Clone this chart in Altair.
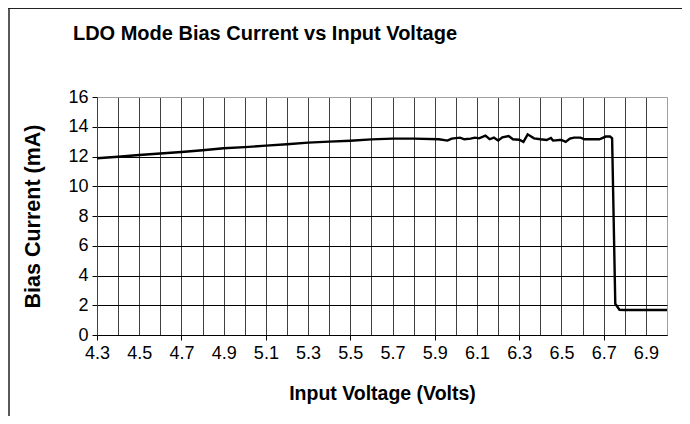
import altair as alt
import pandas as pd

# ---- data ----
volts = [4.30, 4.40, 4.50, 4.60, 4.70, 4.80, 4.90, 5.00, 5.10, 5.20, 5.30, 5.40,
         5.50, 5.60, 5.70, 5.80, 5.92, 5.96, 5.98, 6.02, 6.04, 6.07, 6.09, 6.11,
         6.14, 6.16, 6.18, 6.20, 6.22, 6.25, 6.27, 6.30, 6.32, 6.34, 6.37, 6.40,
         6.43, 6.45, 6.46, 6.49, 6.50, 6.52, 6.54, 6.56, 6.59, 6.61, 6.68, 6.71,
         6.73, 6.74, 6.755, 6.775, 6.80, 7.00]
current = [11.88, 11.98, 12.10, 12.20, 12.30, 12.42, 12.55, 12.63, 12.73, 12.82,
           12.93, 13.00, 13.06, 13.15, 13.20, 13.20, 13.16, 13.07, 13.20, 13.27,
           13.16, 13.20, 13.27, 13.22, 13.40, 13.16, 13.27, 13.07, 13.29, 13.38,
           13.16, 13.13, 12.98, 13.49, 13.22, 13.16, 13.11, 13.25, 13.07, 13.11,
           13.11, 12.98, 13.20, 13.27, 13.27, 13.16, 13.16, 13.34, 13.34, 13.22,
           2.10, 1.70, 1.68, 1.68]

x_ticks = [4.3, 4.4, 4.5, 4.6, 4.7, 4.8, 4.9, 5.0, 5.1, 5.2, 5.3, 5.4, 5.5, 5.6,
           5.7, 5.8, 5.9, 6.0, 6.1, 6.2, 6.3, 6.4, 6.5, 6.6, 6.7, 6.8, 6.9, 7.0]
y_ticks = [0, 2, 4, 6, 8, 10, 12, 14, 16]

title_text = "LDO Mode Bias Current vs Input Voltage"
x_title = "Input Voltage (Volts)"
y_title = "Bias Current (mA)"

df = pd.DataFrame({"v": volts, "i": current})

FONT = "Liberation Sans"

x_axis = alt.Axis(
    values=x_ticks,
    labelExpr="round((datum.value - 4.3) * 10) % 2 == 0 && datum.value < 6.95 ? format(datum.value, '.1f') : ''",
    labelOverlap=False, labelFlush=False, labelBound=False,
    labelFont=FONT, labelFontSize=18, labelColor="black", labelPadding=4,
    tickSize=5, tickColor="black",
    tickOpacity={"condition": {"test": "round((datum.value - 4.3) * 10) % 4 == 0 && datum.value < 6.95", "value": 1}, "value": 0},
    grid=True,
    gridColor={"condition": {"test": "datum.value > 6.95", "value": "#a0a0a0"}, "value": "#404040"},
    domainColor="black",
    title=x_title, titleFont=FONT, titleFontSize=19.5, titleFontWeight="bold",
    titleColor="black", titleX=285, titleY=58, titleAlign="center", titleBaseline="middle",
)

y_axis = alt.Axis(
    values=y_ticks,
    labelFont=FONT, labelFontSize=18, labelColor="black", labelPadding=4,
    tickSize=5, tickColor="black",
    grid=True,
    gridColor={"condition": {"test": "datum.value > 15", "value": "#a0a0a0"}, "value": "black"},
    domainColor="#404040",
    title=y_title, titleFont=FONT, titleFontSize=21.5, titleFontWeight="bold",
    titleColor="black", titleX=-64, titleY=119, titleAngle=270,
    titleAlign="center", titleBaseline="middle",
)

line = alt.Chart(df).mark_line(color="black", strokeWidth=2.4).encode(
    x=alt.X("v:Q", scale=alt.Scale(domain=[4.3, 7.0], nice=False, zero=False), axis=x_axis),
    y=alt.Y("i:Q", scale=alt.Scale(domain=[0, 16], nice=False), axis=y_axis),
)

one = pd.DataFrame({"a": [0]})
left_border = alt.Chart(one).mark_rule(color="#222", strokeWidth=1.5).encode(
    x=alt.value(-88), y=alt.value(-89), y2=alt.value(330)
)
top_border = alt.Chart(one).mark_rule(color="#222", strokeWidth=1).encode(
    y=alt.value(-88.5), x=alt.value(-89), x2=alt.value(590)
)

chart = alt.layer(line, left_border, top_border).properties(
    width=570, height=238,
    autosize=alt.AutoSizeParams(type="none"),
    padding={"left": 89, "top": 89, "right": 15, "bottom": 81},
    title=alt.TitleParams(text=title_text, font=FONT, fontSize=20, fontWeight="bold",
                          color="black", anchor="middle", frame="group", dx=-117, offset=-37),
).configure_view(stroke="#a0a0a0", fill="white").configure(background="white")

chart.save("out.html", embed_options={"renderer": "svg", "actions": False})
